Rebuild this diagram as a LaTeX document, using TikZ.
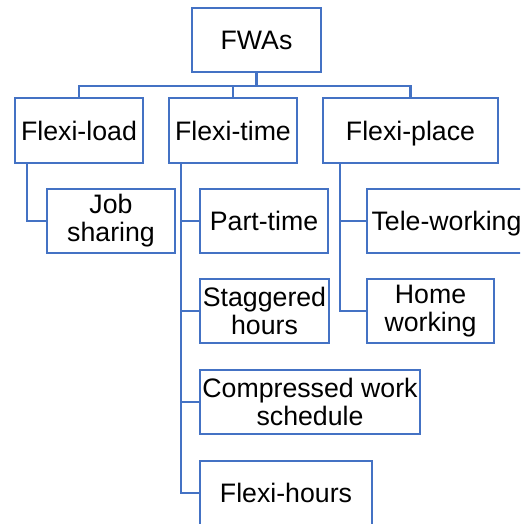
\documentclass[tikz,border=0pt]{standalone}
\usepackage{fontspec}
\setmainfont{Liberation Sans}
\definecolor{boxblue}{HTML}{4472C4}
\begin{document}
\begin{tikzpicture}[x=1pt,y=-1pt,
  box/.style={draw=boxblue,line width=2.4pt,fill=white,inner sep=0pt,align=center,
    font=\fontsize{26.7}{28}\selectfont,text=black},
  oneline/.style={text height=19pt,text depth=0pt},
  link/.style={draw=boxblue,line width=2.4pt}]
\clip (0,0) rectangle (520,524);
\node[box,oneline,minimum width=129pt,minimum height=64pt] (fwas) at (256.5,40) {FWAs};
\node[box,oneline,minimum width=128pt,minimum height=65pt] (fload) at (79,130.5) {Flexi-load};
\node[box,oneline,minimum width=128pt,minimum height=65pt] (ftime) at (233,130.5) {Flexi-time};
\node[box,oneline,minimum width=175pt,minimum height=65pt] (fplace) at (410.5,130.5) {Flexi-place};
\node[box,minimum width=128pt,minimum height=64pt] (job) at (111,221) {Job\\sharing};
\node[box,oneline,minimum width=128pt,minimum height=64pt] (part) at (264,221) {Part-time};
\node[box,oneline,minimum width=159pt,minimum height=64pt] (tele) at (446.5,221) {Tele-working};
\node[box,minimum width=129pt,minimum height=64pt] (stag) at (264.5,311) {Staggered\\hours};
\node[box,minimum width=127pt,minimum height=64pt] (home) at (430.5,311) {Home\\working};
\node[box,minimum width=220pt,minimum height=64pt] (comp) at (310,402) {Compressed work\\schedule};
\node[box,oneline,minimum width=172pt,minimum height=64pt] (fhours) at (286,493) {Flexi-hours};
\coordinate (bus) at (256.5,86);
\draw[link] (fwas.south) -- (bus);
\draw[link] (bus) -| (fload.north);
\draw[link] (bus) -| (ftime.north);
\draw[link] (bus) -| (fplace.north);
\coordinate (tl) at ([xshift=13pt]fload.south west);
\coordinate (tt) at ([xshift=13pt]ftime.south west);
\coordinate (tp) at ([xshift=18pt]fplace.south west);
\draw[link] (tl) |- (job.west);
\draw[link] (tt) |- (part.west);
\draw[link] (tt) |- (stag.west);
\draw[link] (tt) |- (comp.west);
\draw[link] (tt) |- (fhours.west);
\draw[link] (tp) |- (tele.west);
\draw[link] (tp) |- (home.west);
\end{tikzpicture}
\end{document}
